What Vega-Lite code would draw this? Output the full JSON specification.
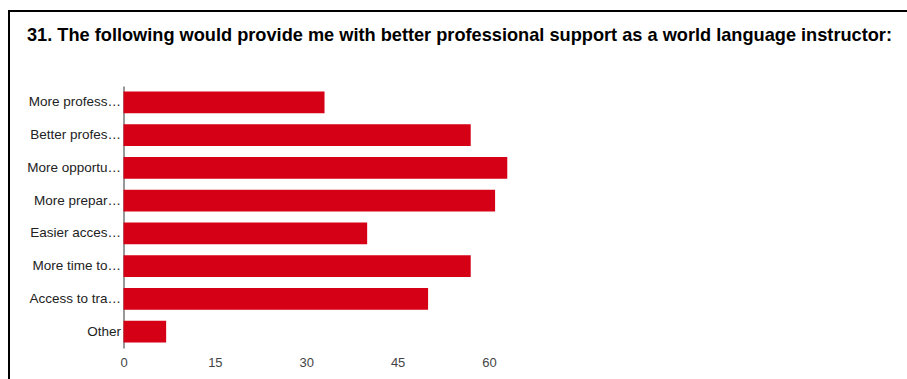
{
  "$schema": "https://vega.github.io/schema/vega-lite/v6.json",
  "autosize": "none",
  "width": 900,
  "height": 370,
  "padding": {"left": 9, "top": 11, "right": 0, "bottom": 0},
  "background": "white",
  "config": {
    "view": {"stroke": "#000000", "strokeWidth": 2},
    "font": "Liberation Sans"
  },
  "title": {
    "text": "31. The following would provide me with better professional support as a world language instructor:",
    "anchor": "start",
    "frame": "group",
    "orient": "top",
    "offset": 0,
    "baseline": "alphabetic",
    "dx": 18,
    "dy": 48,
    "font": "Liberation Sans",
    "fontSize": 18.2,
    "fontWeight": "bold",
    "color": "#000000"
  },
  "data": {
    "values": [
      {"option": "More profess…", "count": 33},
      {"option": "Better profes…", "count": 57},
      {"option": "More opportu…", "count": 63},
      {"option": "More prepar…", "count": 61},
      {"option": "Easier acces…", "count": 40},
      {"option": "More time to…", "count": 57},
      {"option": "Access to tra…", "count": 50},
      {"option": "Other", "count": 7}
    ]
  },
  "mark": {"type": "bar", "color": "#d50016"},
  "encoding": {
    "y": {
      "field": "option",
      "type": "nominal",
      "sort": null,
      "scale": {"range": [75, 337], "paddingInner": 0.335, "paddingOuter": 0.167},
      "axis": {
        "title": null,
        "offset": -114.5,
        "ticks": false,
        "domainColor": "#333333",
        "domainWidth": 1,
        "labelPadding": 3,
        "labelFont": "Liberation Sans",
        "labelFontSize": 13.5,
        "labelColor": "#222222",
        "labelLimit": 200
      }
    },
    "x": {
      "field": "count",
      "type": "quantitative",
      "scale": {"domain": [0, 60], "range": [114.5, 480], "nice": false},
      "axis": {
        "title": null,
        "values": [0, 15, 30, 45, 60],
        "offset": -33,
        "domain": false,
        "ticks": false,
        "grid": false,
        "labelFlush": false,
        "labelPadding": 8,
        "labelFont": "Liberation Sans",
        "labelFontSize": 13,
        "labelColor": "#444444"
      }
    }
  }
}
